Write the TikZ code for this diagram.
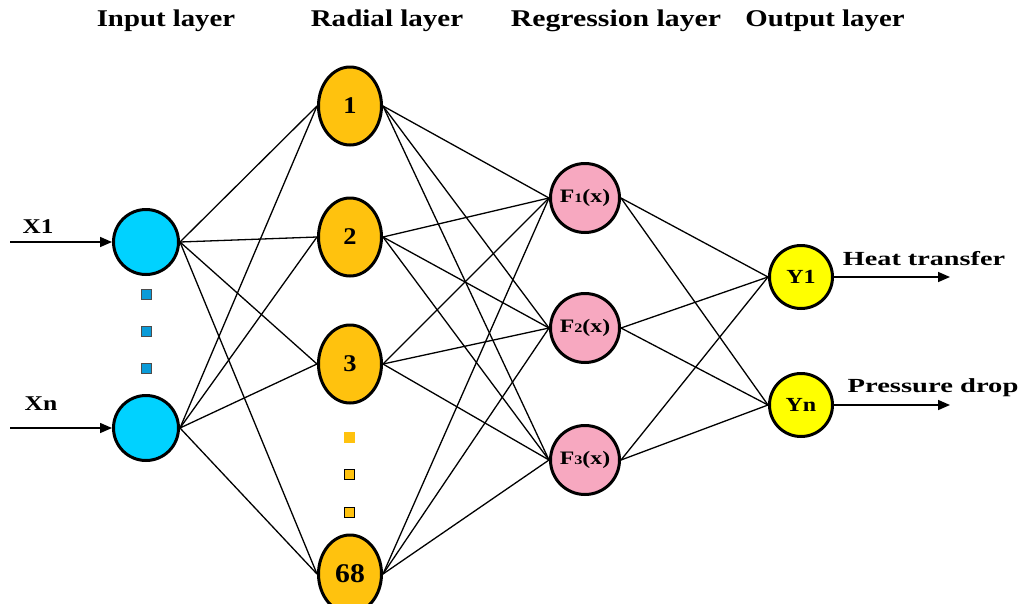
\documentclass[tikz,border=0pt]{standalone}
\usepackage{fontspec}
\setmainfont{Liberation Serif}
\usetikzlibrary{arrows.meta,shapes.geometric,backgrounds}
\definecolor{cyanc}{RGB}{0,210,255}
\definecolor{goldc}{RGB}{255,194,14}
\definecolor{pinkc}{RGB}{247,168,192}
\definecolor{yelc}{RGB}{255,255,0}
\definecolor{sqblue}{RGB}{10,155,216}
\newcommand{\txt}[3]{\scalebox{#2}[1]{\fontsize{#1}{#1}\selectfont\bfseries #3}}
\tikzset{
  inode/.style={circle,draw,line width=3pt,fill=cyanc,minimum size=65pt,inner sep=0pt},
  rnode/.style={ellipse,draw,line width=3pt,fill=goldc,minimum width=63pt,minimum height=78pt,inner sep=0pt},
  fnode/.style={circle,draw,line width=3pt,fill=pinkc,minimum size=69pt,inner sep=0pt},
  ynode/.style={circle,draw,line width=3pt,fill=yelc,minimum size=63pt,inner sep=0pt},
  link/.style={line width=1.3pt},
  ioarrow/.style={line width=1.6pt,-{Triangle[length=12pt,width=10pt]}},
  bsq/.style={draw=black!70,line width=0.8pt,fill=sqblue,minimum size=10pt,inner sep=0pt},
  ysq/.style={draw,line width=1pt,fill=goldc,minimum size=10pt,inner sep=0pt},
  ysqn/.style={fill=goldc,minimum size=11pt,inner sep=0pt},
  hdr/.style={inner sep=0pt}
}
\begin{document}
\begin{tikzpicture}[x=1pt,y=-1pt]
\useasboundingbox (0,0) rectangle (1023,603);
\clip (0,0) rectangle (1023,603);
% headers
\node[hdr] (h1) at (166,21) {\txt{24}{1.2}{Input layer}};
\node[hdr] (h2) at (387,21) {\txt{24}{1.21}{Radial layer}};
\node[hdr] (h3) at (616,21) {\txt{24}{1.24}{Regression layer}};
\node[hdr] (h4) at (825,21) {\txt{24}{1.2}{Output layer}};
% input
\node[inode] (x1) at (146,242) {};
\node[inode] (xn) at (146,428) {};
\node[bsq] (b1) at (146,294) {};
\node[bsq] (b2) at (146,331) {};
\node[bsq] (b3) at (146,368) {};
% radial
\node[rnode] (r1) at (350,106) {\txt{24}{1.1}{1}};
\node[rnode] (r2) at (350,237) {\txt{24}{1.1}{2}};
\node[rnode] (r3) at (350,364) {\txt{24}{1.1}{3}};
\node[rnode] (r68) at (350,574) {\txt{27}{1.1}{68}};
\node[ysqn] (y1s) at (349,437) {};
\node[ysq] (y2s) at (349,474) {};
\node[ysq] (y3s) at (349,512) {};
% regression
\node[fnode] (f1) at (585,198) {\txt{19}{1.25}{F{\fontsize{13}{13}\selectfont 1}(x)}};
\node[fnode] (f2) at (585,328) {\txt{19}{1.25}{F{\fontsize{13}{13}\selectfont 2}(x)}};
\node[fnode] (f3) at (585,460) {\txt{19}{1.25}{F{\fontsize{13}{13}\selectfont 3}(x)}};
% output
\node[ynode] (o1) at (801,277) {\txt{20}{1.2}{Y1}};
\node[ynode] (on) at (801,405) {\txt{20}{1.2}{Yn}};
% io labels
\node[hdr] (lx1) at (38,227) {\txt{21}{1.2}{X1}};
\node[hdr] (lxn) at (41,404) {\txt{21}{1.22}{Xn}};
\node[hdr] (lh) at (924,259) {\txt{20}{1.41}{Heat transfer}};
\node[hdr] (lp) at (933,388) {\txt{20}{1.43}{Pressure drop}};
\coordinate (sx1) at (10,242);
\coordinate (sxn) at (10,428);
\coordinate (e1) at (950,277);
\coordinate (en) at (950,405);
\begin{scope}[on background layer]
  \foreach \a in {x1,xn}
    \foreach \b in {r1,r2,r3,r68}
      \draw[link] (\a.east) -- (\b.west);
  \foreach \a in {r1,r2,r3,r68}
    \foreach \b in {f1,f2,f3}
      \draw[link] (\a.east) -- (\b.west);
  \foreach \a in {f1,f2,f3}
    \foreach \b in {o1,on}
      \draw[link] (\a.east) -- (\b.west);
\end{scope}
\draw[ioarrow] (sx1) -- (x1.west);
\draw[ioarrow] (sxn) -- (xn.west);
\draw[ioarrow] (o1.east) -- (e1);
\draw[ioarrow] (on.east) -- (en);
\end{tikzpicture}
\end{document}
